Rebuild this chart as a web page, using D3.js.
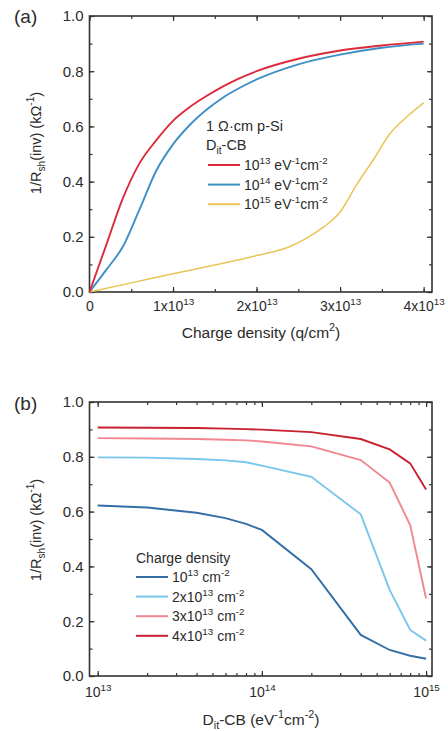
<!DOCTYPE html>
<html>
<head>
<meta charset="utf-8">
<script src="https://cdn.jsdelivr.net/npm/d3@7"></script>
<style>
  body { margin: 0; background: #fff; }
  svg text { font-family: "Liberation Sans", Arial, sans-serif; fill: #2b2b2b; }
</style>
</head>
<body>
<div id="chart"></div>
<script>
(function () {

  // ---- panel (a): conductance vs charge density, for three Dit levels
  var chargeA = [0, 0.2e13, 0.4e13, 0.6e13, 0.8e13, 1.0e13, 1.2e13, 1.4e13, 1.6e13, 1.8e13, 2.0e13, 2.5e13, 3.0e13, 3.5e13, 4.0e13]
  var dit13 = [0, 0.17, 0.34, 0.467, 0.55, 0.62, 0.67, 0.71, 0.745, 0.775, 0.80, 0.845, 0.875, 0.893, 0.907]
  var dit14 = [0, 0.08, 0.165, 0.30, 0.44, 0.535, 0.605, 0.66, 0.705, 0.74, 0.77, 0.825, 0.86, 0.885, 0.90]
  var chargeA15 = [0, 0.5e13, 1.0e13, 1.5e13, 2.0e13, 2.4e13, 2.6e13, 2.8e13, 3.0e13, 3.2e13, 3.4e13, 3.6e13, 3.8e13, 4.0e13]
  var dit15 = [0, 0.033, 0.066, 0.098, 0.132, 0.165, 0.195, 0.235, 0.29, 0.39, 0.48, 0.575, 0.635, 0.685]
  var legendA = ["10^{13} eV^{-1}cm^{-2}", "10^{14} eV^{-1}cm^{-2}", "10^{15} eV^{-1}cm^{-2}"]
  var xTicksA = [0, 1e13, 2e13, 3e13, 4e13]
  var xTickLabelsA = ["0", "1x10^{13}", "2x10^{13}", "3x10^{13}", "4x10^{13}"]

  // ---- panel (b): conductance vs Dit, for four charge densities
  var ditB = [1e13, 2e13, 4e13, 6e13, 8e13, 1e14, 2e14, 4e14, 6e14, 8e14, 1e15]
  var q1 = [0.622, 0.615, 0.596, 0.576, 0.555, 0.533, 0.39, 0.15, 0.095, 0.074, 0.063]
  var q2 = [0.798, 0.797, 0.792, 0.787, 0.78, 0.768, 0.727, 0.59, 0.314, 0.168, 0.129]
  var q3 = [0.868, 0.867, 0.865, 0.862, 0.86, 0.856, 0.838, 0.788, 0.706, 0.551, 0.283]
  var q4 = [0.907, 0.906, 0.905, 0.903, 0.901, 0.899, 0.89, 0.865, 0.827, 0.776, 0.681]
  var legendB = ["10^{13} cm^{-2}", "2x10^{13} cm^{-2}", "3x10^{13} cm^{-2}", "4x10^{13} cm^{-2}"]
  var xTicksB = [1e13, 1e14, 1e15]
  var xTickLabelsB = ["10^{13}", "10^{14}", "10^{15}"]

  var yTicks = [0, 0.2, 0.4, 0.6, 0.8, 1.0]

  var colorsA = ['#dc2a3c', '#3d8fc6', '#e9c456']
  var colorsB = ['#336ea6', '#78c6ec', '#f2878f', '#c9202f']

  var svg = d3.select("#chart").append("svg")
    .attr("width", 448)
    .attr("height", 731)

  // text with ^{sup} and _{sub} pieces
  function rich(sel, str, fs) {
    var parts = str.split(/(\^\{[^}]*\}|_\{[^}]*\})/).filter(function (p) { return p !== "" })
    var off = 0
    parts.forEach(function (p) {
      var t = 0, txt = p, size = fs
      if (p[0] === "^") { t = -0.42 * fs; txt = p.slice(2, -1); size = fs * 0.7 }
      else if (p[0] === "_") { t = 0.28 * fs; txt = p.slice(2, -1); size = fs * 0.7 }
      var ts = sel.append("tspan")
        .attr("font-size", size)
        .text(txt)
      if (t - off !== 0) ts.attr("dy", t - off)
      off = t
    })
    return sel
  }

  function frame(g, x, y, opts) {
    var r = x.range(), h = y.range()

    // minor ticks first
    g.append("g").attr("transform", "translate(0," + h[0] + ")")
      .call(d3.axisBottom(x).tickValues(opts.xMinor).tickSize(-3).tickFormat(""))
    g.append("g").attr("transform", "translate(0," + h[1] + ")")
      .call(d3.axisTop(x).tickValues(opts.xMinor).tickSize(-3).tickFormat(""))
    g.append("g").attr("transform", "translate(" + r[0] + ",0)")
      .call(d3.axisLeft(y).tickValues(d3.range(0, 1.01, 0.1)).tickSize(-3).tickFormat(""))
    g.append("g").attr("transform", "translate(" + r[1] + ",0)")
      .call(d3.axisRight(y).tickValues(d3.range(0, 1.01, 0.1)).tickSize(-3).tickFormat(""))

    // major ticks
    var xb = g.append("g").attr("class", "x-axis").attr("transform", "translate(0," + h[0] + ")")
      .call(d3.axisBottom(x).tickValues(opts.xTicks).tickSize(-5))
    xb.selectAll(".tick text").each(function (d, i) {
      var t = d3.select(this).text(null).attr("dy", null).attr("y", opts.labelY)
      rich(t, opts.xLabels[i], 14)
    })
    g.append("g").attr("transform", "translate(0," + h[1] + ")")
      .call(d3.axisTop(x).tickValues(opts.xTicks).tickSize(-5).tickFormat(""))
    g.append("g").attr("transform", "translate(" + r[0] + ",0)")
      .call(d3.axisLeft(y).tickValues(yTicks).tickSize(-5).tickPadding(6).tickFormat(d3.format(".1f")))
      .selectAll(".tick text").attr("font-size", 15)
    g.append("g").attr("transform", "translate(" + r[1] + ",0)")
      .call(d3.axisRight(y).tickValues(yTicks).tickSize(-5).tickFormat(""))

    g.selectAll(".domain").remove()
    g.selectAll(".tick line").attr("stroke", "#333").attr("stroke-width", 1.2)
    g.selectAll(".x-axis .tick text").attr("font-size", 14)
    g.selectAll(".tick text").attr("fill", "#2b2b2b")
      .attr("font-family", '"Liberation Sans", Arial, sans-serif')

    g.append("rect")
      .attr("x", r[0]).attr("y", h[1])
      .attr("width", r[1] - r[0]).attr("height", h[0] - h[1])
      .attr("fill", "none").attr("stroke", "#333").attr("stroke-width", 1.6)
  }

  function yTitle(cy) {
    rich(svg.append("text")
      .attr("transform", "translate(40.5," + cy + ") rotate(-90)")
      .attr("text-anchor", "middle")
      .attr("font-size", 14.5), "1/R_{sh}(inv) (kΩ^{-1})", 14.5)
  }

  function legend(x, y0, labels, colors) {
    labels.forEach(function (lab, i) {
      var y = y0 + i * 19.6
      svg.append("line")
        .attr("x1", x).attr("x2", x + 32)
        .attr("y1", y).attr("y2", y)
        .attr("stroke", colors[i]).attr("stroke-width", 2)
      rich(svg.append("text")
        .attr("x", x + 36).attr("y", y + 5)
        .attr("font-size", 14), lab, 14)
    })
  }

  // ================= panel (a)
  var xA = d3.scaleLinear().domain([0, 4.1e13]).range([89.5, 432])
  var yA = d3.scaleLinear().domain([0, 1]).range([292, 16])

  var gA = svg.append("g")
  frame(gA, xA, yA, {
    xTicks: xTicksA, xLabels: xTickLabelsA, labelY: 19,
    xMinor: d3.range(0, 4.01e13, 0.5e13)
  })

  var lineA = d3.line()
    .curve(d3.curveMonotoneX)
    .x(function (d) { return xA(d[0]) })
    .y(function (d) { return yA(d[1]) })

  var seriesA = [d3.zip(chargeA, dit13), d3.zip(chargeA, dit14), d3.zip(chargeA15, dit15)]
  seriesA.slice().reverse().forEach(function (s, j) {
    var i = seriesA.length - 1 - j
    gA.append("path").datum(s)
      .attr("d", lineA)
      .attr("fill", "none")
      .attr("stroke", colorsA[i])
      .attr("stroke-width", i === 2 ? 1.5 : 1.9)
  })

  svg.append("text").attr("x", 14).attr("y", 23).attr("font-size", 19).text("(a)")
  yTitle(143)
  rich(svg.append("text").attr("x", 261).attr("y", 338)
    .attr("text-anchor", "middle").attr("font-size", 15.5), "Charge density (q/cm^{2})", 15.5)

  svg.append("text").attr("x", 206).attr("y", 131).attr("font-size", 14.5).text("1 Ω·cm p-Si")
  rich(svg.append("text").attr("x", 206).attr("y", 150).attr("font-size", 14.5), "D_{it}-CB", 14.5)
  legend(208, 165, legendA, colorsA)

  // ================= panel (b)
  var xB = d3.scaleLog().domain([Math.pow(10, 12.95), Math.pow(10, 15.036)]).range([89.5, 432])
  var yB = d3.scaleLinear().domain([0, 1]).range([676, 402])

  var minorB = []
  ;[1e13, 1e14].forEach(function (dec) {
    d3.range(1, 10).forEach(function (k) { minorB.push(dec * k) })
  })
  minorB.push(1e15)

  var gB = svg.append("g")
  frame(gB, xB, yB, {
    xTicks: xTicksB, xLabels: xTickLabelsB, labelY: 21,
    xMinor: minorB
  })

  var lineB = d3.line()
    .x(function (d) { return xB(d[0]) })
    .y(function (d) { return yB(d[1]) })

  ;[q1, q2, q3, q4].forEach(function (vals, i) {
    gB.append("path").datum(d3.zip(ditB, vals))
      .attr("d", lineB)
      .attr("fill", "none")
      .attr("stroke", colorsB[i])
      .attr("stroke-width", 1.9)
  })

  svg.append("text").attr("x", 14).attr("y", 410).attr("font-size", 19).text("(b)")
  yTitle(530)
  rich(svg.append("text").attr("x", 261).attr("y", 725)
    .attr("text-anchor", "middle").attr("font-size", 15.5), "D_{it}-CB (eV^{-1}cm^{-2})", 15.5)

  svg.append("text").attr("x", 136).attr("y", 563).attr("font-size", 14).text("Charge density")
  legend(136, 577, legendB, colorsB)

})()
</script>
</body>
</html>
